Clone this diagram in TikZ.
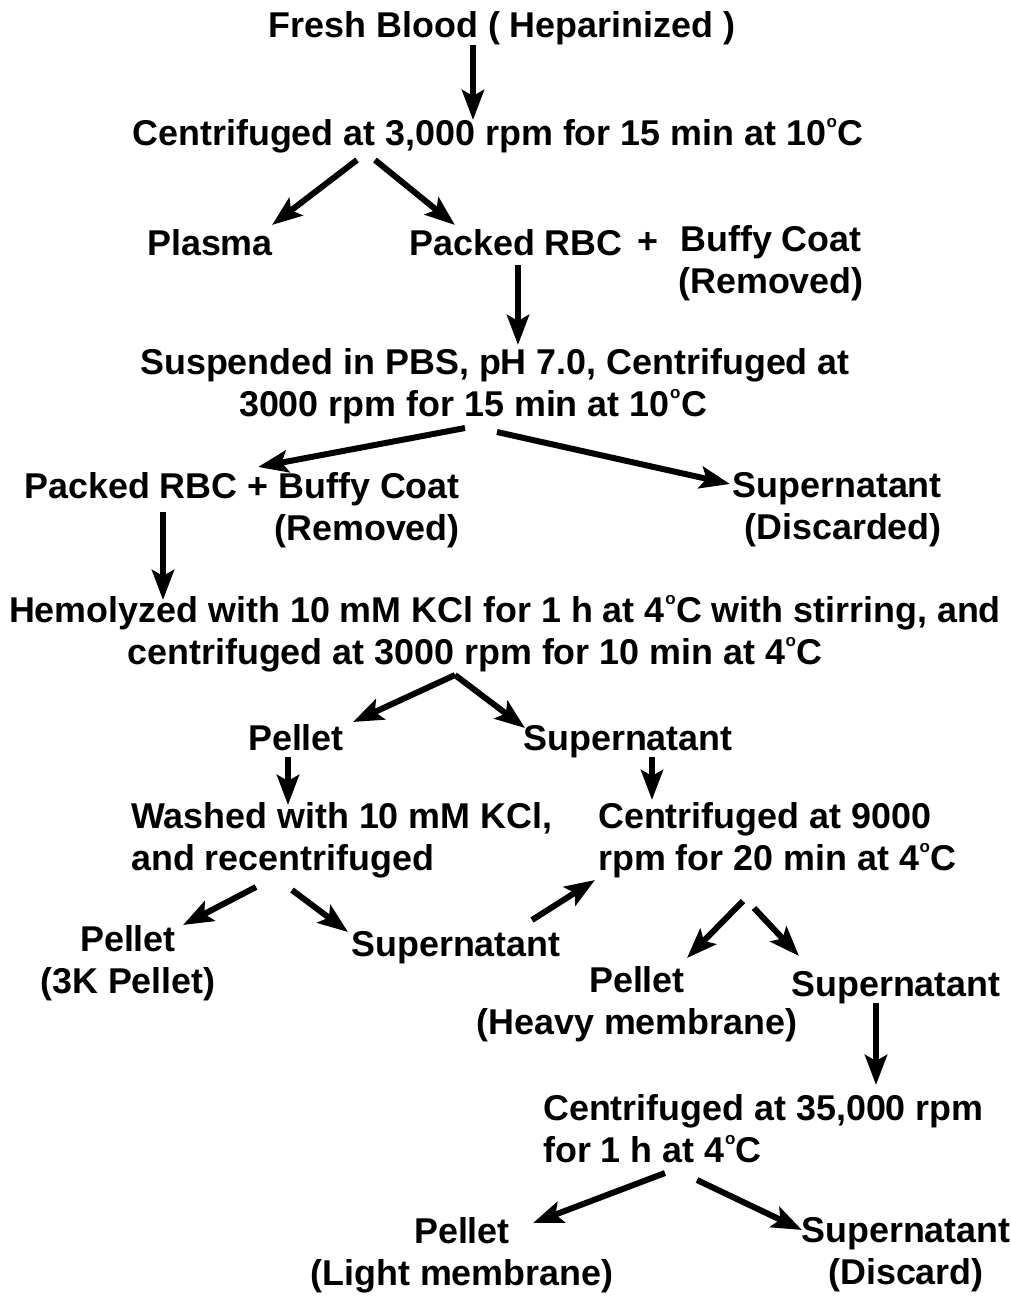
\documentclass[tikz,border=0pt]{standalone}
\usepackage{fontspec}
\setmainfont{Liberation Sans}
\usetikzlibrary{arrows.meta}
\newcommand\dg{\kern0.5bp\raisebox{18bp}{\fontsize{17}{17}\selectfont o}\kern0.5bp}
\begin{document}
\begin{tikzpicture}[x=1bp,y=-1bp,
  lbl/.style={inner sep=0pt, font=\bfseries\fontsize{36}{42}\selectfont},
  arr/.style={line width=6bp, -{Stealth[length=30bp,width=22bp,inset=6bp]}}]
\useasboundingbox (0,0) rectangle (1011,1297);
\node[lbl, anchor=base] (fb) at (502,37) {Fresh Blood ( Heparinized )};
\node[lbl, anchor=base] (c1) at (498,145) {Centrifuged at 3,000 rpm for 15 min at 10\dg C};
\node[lbl, anchor=base] (plasma) at (210,255) {Plasma};
\node[lbl, anchor=base] (prbc1) at (516,255) {Packed RBC};
\node[lbl, anchor=base] (plus1) at (648,253) {+};
\node[lbl, align=center] (buffy1) at (771,263) {Buffy Coat\\(Removed)};
\node[lbl, align=center] (sus) at (495,386) {Suspended in PBS, pH 7.0, Centrifuged at\\3000 rpm for 15 min at 10\dg C\rule{44bp}{0pt}};
\node[lbl, align=right, anchor=east] (prbc2) at (460,510) {Packed RBC + Buffy Coat\\(Removed)};
\node[lbl, align=right, anchor=east] (sup2) at (942,510) {Supernatant\\(Discarded)};
\node[lbl, align=center] (hemo) at (505,634) {Hemolyzed with 10 mM KCl for 1 h at 4\dg C with stirring, and\\centrifuged at 3000 rpm for 10 min at 4\dg C\rule{60bp}{0pt}};
\node[lbl, anchor=base] (pel1) at (296,750) {Pellet};
\node[lbl, anchor=base] (sup3) at (628,750) {Supernatant};
\node[lbl, align=left, anchor=west] (wash) at (131,840) {Washed with 10 mM KCl,\\and recentrifuged};
\node[lbl, align=left, anchor=west] (c9) at (598,840) {Centrifuged at 9000\\rpm for 20 min at 4\dg C};
\node[lbl, align=center] (pel2) at (128,963) {Pellet\\(3K Pellet)};
\node[lbl, anchor=base] (sup4) at (456,956) {Supernatant};
\node[lbl, align=center] (pel3) at (637,1004) {Pellet\\(Heavy membrane)};
\node[lbl, anchor=base] (sup5) at (896,996) {Supernatant};
\node[lbl, align=left, anchor=west] (c35) at (543,1129) {Centrifuged at 35,000 rpm\\for 1 h at 4\dg C};
\node[lbl, align=center] (pel4) at (462,1255) {Pellet\\(Light membrane)};
\node[lbl, align=center] (sup6) at (906,1255) {Supernatant\\(Discard)};

\draw[arr] ([shift={(-29,8)}]fb.base) -- ([shift={(-25,-25)}]c1.base);
\draw[arr] ([shift={(-141,15)}]c1.base) -- ([shift={(62,-30)}]plasma.base);
\draw[arr] ([shift={(-123,15)}]c1.base) -- ([shift={(-61,-30)}]prbc1.base);
\draw[arr] ([shift={(2,10)}]prbc1.base) -- ([shift={(23,-41)}]sus.center);
\draw[arr] ([shift={(-30,42)}]sus.center) -- ([shift={(-202,-43)}]prbc2.east);
\draw[arr] ([shift={(2,46)}]sus.center) -- ([shift={(-212,-26)}]sup2.east);
\draw[arr] ([shift={(-297,2)}]prbc2.east) -- ([shift={(-342,-34)}]hemo.center);
\draw[arr] ([shift={(-50,41)}]hemo.center) -- ([shift={(57,-28)}]pel1.base);
\draw[arr] ([shift={(-50,41)}]hemo.center) -- ([shift={(-103,-22)}]sup3.base);
\draw[arr] ([shift={(-8,7)}]pel1.base) -- ([shift={(157,-35)}]wash.west);
\draw[arr] ([shift={(24,7)}]sup3.base) -- ([shift={(54,-40)}]c9.west);
\draw[arr] ([shift={(125,47)}]wash.west) -- ([shift={(55,-38)}]pel2.center);
\draw[arr] ([shift={(161,50)}]wash.west) -- ([shift={(-108,-24)}]sup4.base);
\draw[arr] ([shift={(76,-36)}]sup4.base) -- ([shift={(-3,40)}]c9.west);
\draw[arr] ([shift={(145,61)}]c9.west) -- ([shift={(50,-46)}]pel3.center);
\draw[arr] ([shift={(156,68)}]c9.west) -- ([shift={(-97,-40)}]sup5.base);
\draw[arr] ([shift={(-20,7)}]sup5.base) -- ([shift={(333,-44)}]c35.west);
\draw[arr] ([shift={(122,44)}]c35.west) -- ([shift={(71,-32)}]pel4.center);
\draw[arr] ([shift={(154,51)}]c35.west) -- ([shift={(-104,-25)}]sup6.center);
\end{tikzpicture}
\end{document}
